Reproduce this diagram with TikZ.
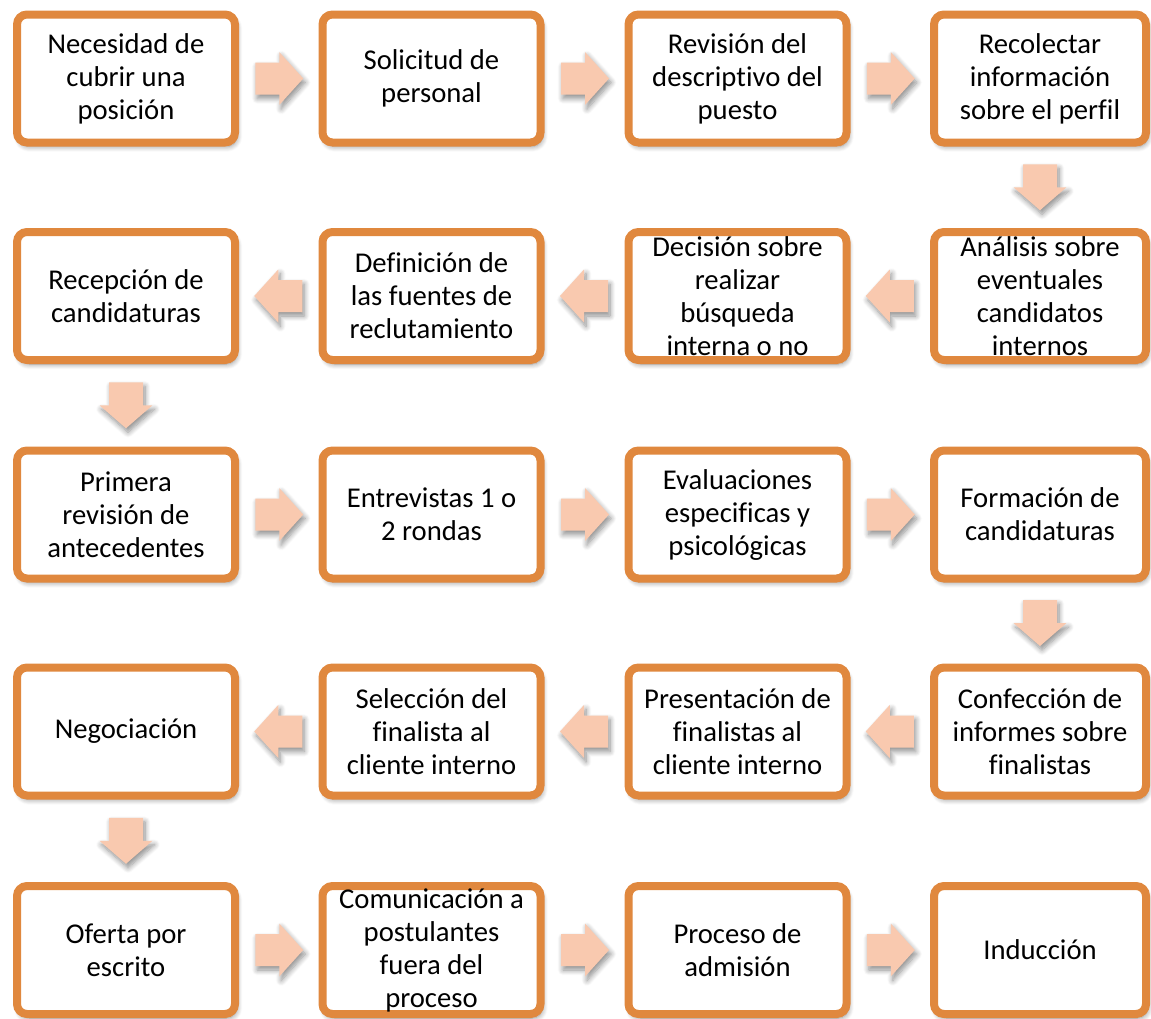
\documentclass[tikz,border=0pt]{standalone}
\usepackage{fontspec}
\setmainfont[Ligatures={NoCommon}]{Carlito}
\usetikzlibrary{calc,shadows.blur}

\definecolor{boxedge}{RGB}{224,136,62}
\definecolor{arrowfill}{RGB}{249,201,175}

\tikzset{
  softshadow/.style={blur shadow={shadow xshift=1.5pt, shadow yshift=-3pt,
      shadow blur radius=4pt, shadow blur steps=8, shadow opacity=45}},
  stepbox/.style={draw=boxedge, line width=6pt, fill=white,
      rounded corners=7.5pt, minimum width=163.5pt, minimum height=96pt,
      inner sep=0pt, align=center, text=black,
      font=\fontsize{21.5}{24.75}\selectfont, softshadow},
  narrowbox/.style={stepbox, minimum width=159pt},
  rarrow/.pic={\fill[arrowfill, softshadow]
      (-23.5,-16) -- (0.5,-16) -- (0.5,-26.5) -- (24.5,0) -- (0.5,26.5)
      -- (0.5,16) -- (-23.5,16) -- cycle;},
  larrow/.pic={\fill[arrowfill, softshadow]
      (23.5,-16) -- (-0.5,-16) -- (-0.5,-26.5) -- (-24.5,0) -- (-0.5,26.5)
      -- (-0.5,16) -- (23.5,16) -- cycle;},
  darrow/.pic={\fill[arrowfill, softshadow]
      (-17,-23) -- (-17,0) -- (-26.5,0) -- (0,23) -- (26.5,0)
      -- (17,0) -- (17,-23) -- cycle;},
}

\begin{document}
\begin{tikzpicture}[x=0.75pt, y=-0.75pt]
\useasboundingbox (0,0) rectangle (1151,1018);

% row 1
\node[stepbox]   (a1) at (126,78.5)    {Necesidad de\\cubrir una\\posición};
\node[stepbox]   (a2) at (431.5,78.5)  {Solicitud de\\personal};
\node[stepbox]   (a3) at (737.5,78.5)  {Revisión del\\descriptivo del\\puesto};
\node[narrowbox] (a4) at (1040,78.5)   {Recolectar\\información\\sobre el perfil};

% row 2
\node[stepbox]   (b1) at (126,296)     {Recepción de\\candidaturas};
\node[stepbox]   (b2) at (431.5,296)   {Definición de\\las fuentes de\\reclutamiento};
\node[stepbox]   (b3) at (737.5,296)   {Decisión sobre\\realizar\\búsqueda\\interna o no};
\node[narrowbox] (b4) at (1040,296)    {Análisis sobre\\eventuales\\candidatos\\internos};

% row 3
\node[stepbox]   (c1) at (126,514.5)   {Primera\\revisión de\\antecedentes};
\node[stepbox]   (c2) at (431.5,514.5) {Entrevistas 1 o\\2 rondas};
\node[stepbox]   (c3) at (737.5,514.5) {Evaluaciones\\especificas y\\psicológicas};
\node[narrowbox] (c4) at (1040,514.5)  {Formación de\\candidaturas};

% row 4
\node[stepbox]   (d1) at (126,731.5)   {Negociación};
\node[stepbox]   (d2) at (431.5,731.5) {Selección del\\finalista al\\cliente interno};
\node[stepbox]   (d3) at (737.5,731.5) {Presentación de\\finalistas al\\cliente interno};
\node[narrowbox] (d4) at (1040,731.5)  {Confección de\\informes sobre\\finalistas};

% row 5
\node[stepbox]   (e1) at (126,950)     {Oferta por\\escrito};
\node[stepbox]   (e2) at (431.5,950)   {Comunicación a\\postulantes\\fuera del\\proceso};
\node[stepbox]   (e3) at (737.5,950)   {Proceso de\\admisión};
\node[narrowbox] (e4) at (1040,950)    {Inducción};

% block arrows between consecutive steps
\pic at ($(a1.east)!0.5!(a2.west)$) {rarrow};
\pic at ($(a2.east)!0.5!(a3.west)$) {rarrow};
\pic at ($(a3.east)!0.5!(a4.west)$) {rarrow};
\pic at ($(a4.south)!0.5!(b4.north)$) {darrow};
\pic at ($(b4.west)!0.5!(b3.east)$) {larrow};
\pic at ($(b3.west)!0.5!(b2.east)$) {larrow};
\pic at ($(b2.west)!0.5!(b1.east)$) {larrow};
\pic at ($(b1.south)!0.5!(c1.north)$) {darrow};
\pic at ($(c1.east)!0.5!(c2.west)$) {rarrow};
\pic at ($(c2.east)!0.5!(c3.west)$) {rarrow};
\pic at ($(c3.east)!0.5!(c4.west)$) {rarrow};
\pic at ($(c4.south)!0.5!(d4.north)$) {darrow};
\pic at ($(d4.west)!0.5!(d3.east)$) {larrow};
\pic at ($(d3.west)!0.5!(d2.east)$) {larrow};
\pic at ($(d2.west)!0.5!(d1.east)$) {larrow};
\pic at ($(d1.south)!0.5!(e1.north)$) {darrow};
\pic at ($(e1.east)!0.5!(e2.west)$) {rarrow};
\pic at ($(e2.east)!0.5!(e3.west)$) {rarrow};
\pic at ($(e3.east)!0.5!(e4.west)$) {rarrow};
\end{tikzpicture}
\end{document}
